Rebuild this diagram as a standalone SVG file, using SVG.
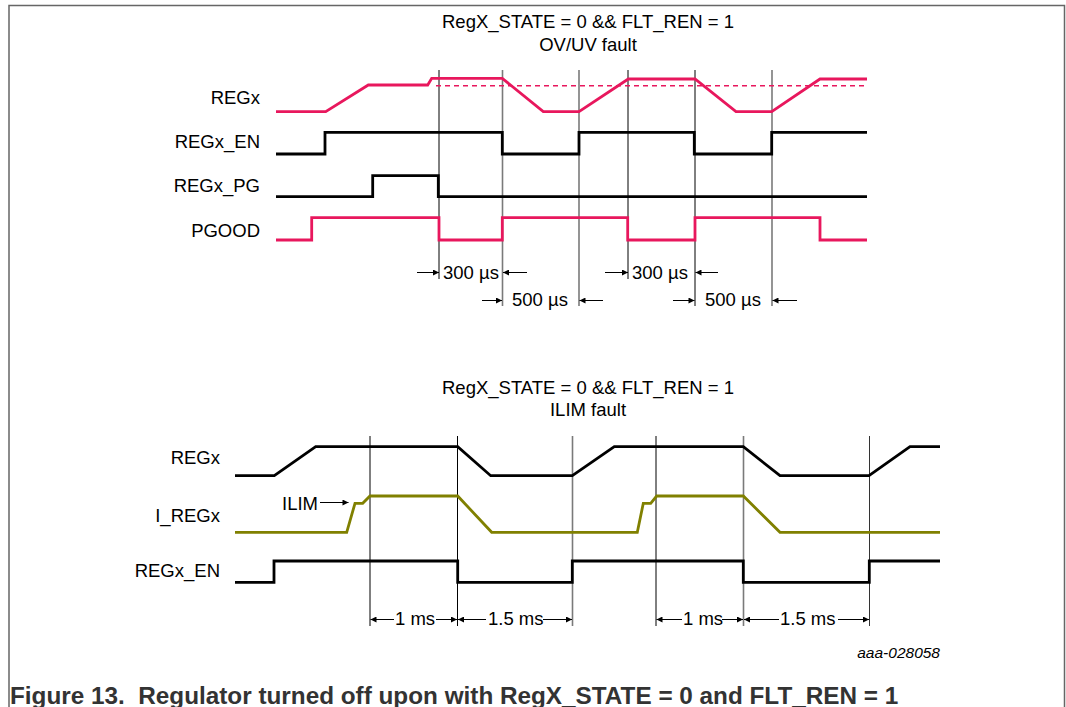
<svg xmlns="http://www.w3.org/2000/svg" width="1066" height="707" viewBox="0 0 1066 707">
<style>
text{font-family:"Liberation Sans",Arial,sans-serif;font-size:18.5px;fill:#000}
.lbl{text-anchor:end}
.ttl{text-anchor:middle}
.pink{fill:none;stroke:#E8175D;stroke-width:2.8;stroke-linejoin:miter}
.blk{fill:none;stroke:#000;stroke-width:2.8;stroke-linejoin:miter}
.olv{fill:none;stroke:#808000;stroke-width:2.8;stroke-linejoin:miter}
.vk{stroke:#000;stroke-width:1}
.vg{stroke:#7a7a7a;stroke-width:1.6}
.dim{stroke:#000;stroke-width:1;marker-end:url(#ah)}
.frame{fill:none;stroke:#666;stroke-width:1.5}
</style>
<defs>
<marker id="ah" viewBox="0 0 10 10" refX="10" refY="5" markerWidth="9" markerHeight="6" markerUnits="userSpaceOnUse" orient="auto">
<path d="M0,0 L10,5 L0,10 z" fill="#000"/>
</marker>
</defs>
<rect width="1066" height="707" fill="#fff"/>
<path class="frame" d="M9,707 V5.5 H1064.5 V707"/>

<g id="top-title">
<text class="ttl" x="588" y="28">RegX_STATE = 0 &amp;&amp; FLT_REN = 1</text>
<text class="ttl" x="588" y="51">OV/UV fault</text>
</g>

<g id="connectors">
<line class="vk" x1="439" y1="70" x2="439" y2="279"/>
<line class="vg" x1="502.5" y1="70" x2="502.5" y2="306"/>
<line class="vg" x1="579" y1="70" x2="579" y2="306"/>
<line class="vk" x1="628" y1="70" x2="628" y2="279"/>
<line class="vk" x1="695" y1="70" x2="695" y2="306"/>
<line class="vg" x1="772" y1="70" x2="772" y2="306"/>
<line class="dim" x1="417" y1="272.5" x2="439" y2="272.5"/>
<line class="dim" x1="527" y1="272.5" x2="503" y2="272.5"/>
<line class="dim" x1="482" y1="300.5" x2="502" y2="300.5"/>
<line class="dim" x1="603" y1="300.5" x2="579.5" y2="300.5"/>
<line class="dim" x1="605" y1="272.5" x2="628" y2="272.5"/>
<line class="dim" x1="718" y1="272.5" x2="695.5" y2="272.5"/>
<line class="dim" x1="673" y1="300.5" x2="694.5" y2="300.5"/>
<line class="dim" x1="797" y1="300.5" x2="772.5" y2="300.5"/>

<line class="vk" x1="370" y1="436" x2="370" y2="626"/>
<line class="vk" x1="457.5" y1="436" x2="457.5" y2="626"/>
<line class="vg" x1="572.5" y1="436" x2="572.5" y2="626"/>
<line class="vk" x1="656" y1="436" x2="656" y2="626"/>
<line class="vg" x1="743.5" y1="436" x2="743.5" y2="626"/>
<line class="vk" x1="869.5" y1="436" x2="869.5" y2="626" style="stroke:#333"/>
<line class="dim" x1="394" y1="619.5" x2="370.5" y2="619.5"/>
<line class="dim" x1="436" y1="619.5" x2="457" y2="619.5"/>
<line class="dim" x1="486" y1="619.5" x2="458" y2="619.5"/>
<line class="dim" x1="543" y1="619.5" x2="572" y2="619.5"/>
<line class="dim" x1="682" y1="619.5" x2="656.5" y2="619.5"/>
<line class="dim" x1="722" y1="619.5" x2="743" y2="619.5"/>
<line class="dim" x1="779" y1="619.5" x2="744" y2="619.5"/>
<line class="dim" x1="838" y1="619.5" x2="869" y2="619.5"/>
<line class="dim" x1="320" y1="502.5" x2="348.5" y2="502.5"/>
</g>

<g id="dim-labels">
<text x="443" y="279">300 µs</text>
<text x="512" y="306">500 µs</text>
<text x="632" y="279">300 µs</text>
<text x="705" y="306">500 µs</text>
<text x="395" y="625">1 ms</text>
<text x="488" y="625">1.5 ms</text>
<text x="683" y="625">1 ms</text>
<text x="780" y="625">1.5 ms</text>
</g>

<g id="top-regx">
<text class="lbl" x="260" y="104">REGx</text>
<line x1="436" y1="85.7" x2="866" y2="85.7" stroke="#E8175D" stroke-width="1.6" stroke-dasharray="5,4"/>
<polyline class="pink" points="276,111.7 325.7,111.7 368.3,85 427.7,85 431.7,78.3 502.3,78.3 543.3,111.7 579,111.7 628.3,79 695,79 736,111.7 771.7,111.7 820,79 867,79"/>
</g>
<g id="top-regx-en">
<text class="lbl" x="260" y="148">REGx_EN</text>
<polyline class="blk" points="276,154 325,154 325,132.3 502.3,132.3 502.3,154 579,154 579,132.3 694.3,132.3 694.3,154 771.7,154 771.7,132.3 867,132.3"/>
</g>
<g id="top-regx-pg">
<text class="lbl" x="260" y="192">REGx_PG</text>
<polyline class="blk" points="276,196.7 372.7,196.7 372.7,175.7 438.3,175.7 438.3,196.7 867,196.7"/>
</g>
<g id="top-pgood">
<text class="lbl" x="260" y="237">PGOOD</text>
<polyline class="pink" points="276,240 311.7,240 311.7,217.7 439,217.7 439,240 502.3,240 502.3,217.7 627.7,217.7 627.7,240 695,240 695,217.7 820,217.7 820,240 867,240"/>
</g>

<g id="bottom-title">
<text class="ttl" x="588" y="394">RegX_STATE = 0 &amp;&amp; FLT_REN = 1</text>
<text class="ttl" x="588" y="416">ILIM fault</text>
</g>

<g id="bot-regx">
<text class="lbl" x="220" y="464">REGx</text>
<polyline class="blk" points="235,475.7 274.3,475.7 315.7,446.7 457.7,446.7 490.7,475.7 572.3,475.7 614.3,446.7 743.3,446.7 780,475.7 869,475.7 910,446.7 940,446.7"/>
</g>
<g id="bot-iregx">
<text class="lbl" x="220" y="522">I_REGx</text>
<text x="282" y="510">ILIM</text>
<polyline class="olv" points="235,532.3 346.7,532.3 355,503.3 362.7,503.3 370,496 457.7,496 491.7,532.3 637.3,532.3 643.3,503.3 650.7,503.3 656.7,496 743.3,496 780,532.3 940,532.3"/>
</g>
<g id="bot-regx-en">
<text class="lbl" x="220" y="577">REGx_EN</text>
<polyline class="blk" points="235,582.3 274,582.3 274,561 457.7,561 457.7,582.3 572.3,582.3 572.3,561 743.3,561 743.3,582.3 869.3,582.3 869.3,561 940,561"/>
</g>

<g id="footer">
<text x="940" y="658" style="font-size:15.5px;font-style:italic;text-anchor:end">aaa-028058</text>
<text x="10" y="704" xml:space="preserve" style="font-size:24.3px;font-weight:bold;fill:#333">Figure 13.  Regulator turned off upon with RegX_STATE = 0 and FLT_REN = 1</text>
</g>
</svg>
